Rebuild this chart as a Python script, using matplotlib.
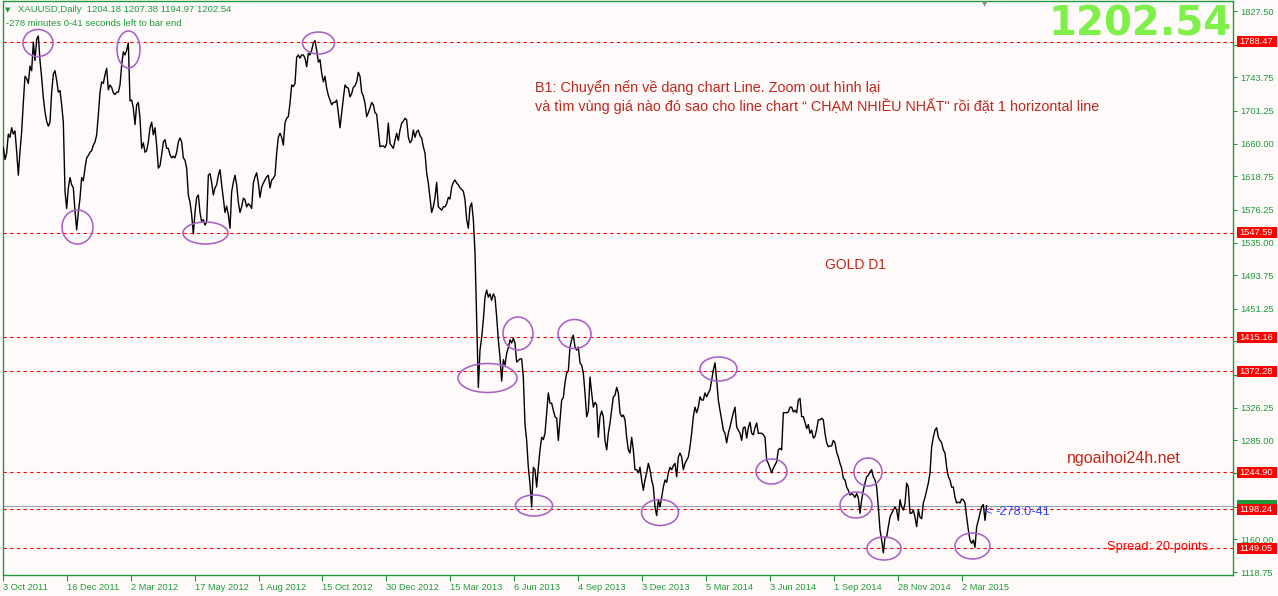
import matplotlib
matplotlib.use('Agg')
import matplotlib.pyplot as plt
from matplotlib.patches import Ellipse, Rectangle
from matplotlib.transforms import IdentityTransform
import numpy as np

# ---------------- data (XAUUSD daily close) ----------------
prices_2011_2012 = [
    1655, 1640, 1648, 1672, 1668, 1680, 1672, 1676, 1650, 1620, 1650, 1675, 1712, 1745, 1742, 1736,
    1758, 1752, 1788, 1765, 1792, 1796, 1765, 1743, 1718, 1700, 1688, 1682, 1687, 1725, 1748, 1752,
    1740, 1725, 1727, 1709, 1687, 1600, 1578, 1604, 1617, 1608, 1604, 1575, 1551, 1573, 1591, 1617,
    1613, 1629, 1642, 1645, 1649, 1651, 1658, 1662, 1671, 1696, 1725, 1738, 1736, 1747, 1755, 1728,
    1734, 1731, 1724, 1722, 1725, 1725, 1734, 1759, 1776, 1772, 1778, 1787, 1714, 1715, 1705, 1684,
    1709, 1712, 1692, 1654, 1661, 1649, 1651, 1662, 1680, 1687, 1671, 1680, 1658, 1629, 1632, 1646,
    1662, 1665, 1654, 1654, 1646, 1642, 1644, 1642, 1649, 1662, 1667, 1662, 1642, 1639, 1629, 1595,
    1586, 1570, 1546, 1573, 1592, 1595, 1573, 1561, 1564, 1557, 1561, 1620, 1622, 1611, 1595, 1604,
    1608, 1620, 1627, 1608, 1591, 1573, 1581, 1570, 1553, 1599, 1611, 1620, 1608, 1586, 1573, 1580,
    1591, 1589, 1580, 1584,
]
prices_2012_2013 = [
    1582, 1578, 1610, 1618, 1623, 1610, 1592, 1605, 1610, 1614, 1618, 1620, 1604, 1614, 1616, 1620,
    1648, 1668, 1673, 1668, 1658, 1686, 1692, 1694, 1711, 1734, 1732, 1736, 1769, 1772, 1768, 1772,
    1772, 1768, 1757, 1774, 1772, 1778, 1787, 1790, 1778, 1763, 1766, 1749, 1738, 1745, 1730, 1721,
    1715, 1709, 1712, 1712, 1715, 1699, 1680, 1699, 1717, 1734, 1731, 1730, 1719, 1723, 1731, 1733,
    1738, 1750, 1745, 1725, 1720, 1711, 1694, 1699, 1705, 1712, 1709, 1699, 1697, 1677, 1656, 1657,
    1657, 1655, 1660, 1686, 1660, 1657, 1654, 1664, 1673, 1664, 1677, 1686, 1688, 1692, 1690, 1668,
    1661, 1664, 1677, 1668, 1675, 1677, 1670, 1667, 1656, 1648, 1623, 1610, 1592, 1573, 1580, 1592,
    1611, 1580, 1578, 1576, 1580, 1580, 1584, 1592, 1590, 1605, 1611, 1614, 1610, 1608, 1604, 1602,
    1600, 1589, 1564, 1553, 1580, 1585, 1564, 1523, 1440, 1352, 1399, 1415, 1437, 1466, 1475, 1466,
    1470, 1462, 1470, 1466,
]
prices_2013_2014 = [
    1441, 1412, 1390, 1360, 1387, 1380, 1395, 1402, 1412, 1408, 1414, 1408, 1384, 1386, 1388, 1388,
    1365, 1305, 1285, 1251, 1230, 1201, 1251, 1248, 1226, 1251, 1273, 1289, 1286, 1294, 1320, 1345,
    1332, 1332, 1323, 1315, 1313, 1285, 1311, 1336, 1339, 1358, 1370, 1373, 1403, 1412, 1418, 1403,
    1399, 1403, 1383, 1380, 1370, 1345, 1315, 1322, 1365, 1345, 1327, 1333, 1330, 1289, 1315, 1322,
    1315, 1285, 1273, 1294, 1307, 1323, 1340, 1342, 1352, 1345, 1320, 1315, 1317, 1311, 1289, 1273,
    1269, 1289, 1273, 1248, 1248, 1244, 1251, 1235, 1222, 1235, 1244, 1256, 1248, 1235, 1226, 1201,
    1190, 1210, 1201, 1213, 1226, 1235, 1232, 1244, 1251, 1248, 1253, 1256, 1239, 1264, 1269, 1264,
    1248, 1256, 1260, 1264, 1277, 1294, 1315, 1327, 1320, 1327, 1340, 1336, 1336, 1345, 1340, 1345,
    1349, 1361, 1374, 1383, 1361, 1336, 1323, 1311, 1298, 1294, 1282, 1294, 1302, 1311, 1320, 1327,
    1302, 1298, 1294,
]
prices_2014_2015 = [
    1285, 1301, 1302, 1288, 1301, 1308, 1294, 1292, 1301, 1307, 1294, 1294, 1294, 1292, 1289, 1260,
    1256, 1250, 1244, 1250, 1254, 1258, 1273, 1275, 1273, 1320, 1320, 1320, 1321, 1327, 1327, 1321,
    1323, 1320, 1336, 1338, 1315, 1315, 1308, 1300, 1305, 1294, 1298, 1288, 1290, 1299, 1311, 1311,
    1313, 1311, 1294, 1282, 1277, 1278, 1278, 1285, 1282, 1270, 1264, 1256, 1250, 1237, 1235, 1226,
    1222, 1216, 1218, 1216, 1213, 1218, 1212, 1193, 1210, 1222, 1231, 1239, 1241, 1245, 1248, 1239,
    1235, 1226, 1201, 1172, 1159, 1143, 1162, 1163, 1176, 1188, 1193, 1197, 1201, 1197, 1184, 1210,
    1201, 1197, 1205, 1231, 1226, 1193, 1193, 1197, 1188, 1176, 1197, 1188, 1186, 1206, 1213, 1222,
    1231, 1244, 1277, 1289, 1298, 1301, 1289, 1285, 1282, 1273, 1269, 1251, 1239, 1235, 1226, 1226,
    1213, 1206, 1207, 1206, 1211, 1210, 1206, 1188, 1172, 1159, 1155, 1159, 1150, 1176, 1184, 1193,
    1201, 1204, 1184, 1202.54,
]

date_labels = ["3 Oct 2011", "16 Dec 2011", "2 Mar 2012", "17 May 2012", "1 Aug 2012",
               "15 Oct 2012", "30 Dec 2012", "15 Mar 2013", "6 Jun 2013", "4 Sep 2013",
               "3 Dec 2013", "5 Mar 2014", "3 Jun 2014", "1 Sep 2014", "28 Nov 2014",
               "2 Mar 2015"]
axis_prices = [1827.50, 1785.00, 1743.75, 1701.25, 1660.00, 1618.75, 1576.25, 1535.00,
               1493.75, 1451.25, 1410.00, 1367.50, 1326.25, 1285.00, 1243.75, 1201.25,
               1160.00, 1118.75]
level_prices = [1788.47, 1547.59, 1415.16, 1372.28, 1244.90, 1198.24, 1149.05]
last_price = 1202.54
header = "XAUUSD,Daily  1204.18 1207.38 1194.97 1202.54"
timer_text = "-278 minutes 0-41 seconds left to bar end"

# ---------------- styling ----------------
W, H = 1278, 596
BG = '#FFFAFA'
GREEN = '#1F9A3A'
RED = '#FF0000'
DARKRED = '#C0281C'
PURPLE = '#A860C8'
FONT = ['Liberation Sans', 'DejaVu Sans']
plt.rcParams['font.family'] = FONT

fig = plt.figure(figsize=(W / 100, H / 100), dpi=100, facecolor=BG)
L, R, T, B = 3, 1233, 1, 575
ax = fig.add_axes([L / W, (H - B) / H, (R - L) / W, (B - T) / H])
ax.set_facecolor(BG)

prices = prices_2011_2012 + prices_2012_2013 + prices_2013_2014 + prices_2014_2015
xs = np.arange(len(prices))
step_px = 5 / 3.0            # horizontal pixel step per sample
x0_px = 3.33                 # pixel x of first sample
ax.set_xlim((L - x0_px) / step_px, (R - x0_px) / step_px)
ppp = (1827.5 - 1118.75) / (572 - 11)   # price per pixel
ax.set_ylim(1827.5 - (B - 11) * ppp, 1827.5 + (11 - T) * ppp)

ax.plot(xs, prices, color='black', lw=1.0, zorder=3)

for lv in level_prices:
    ax.axhline(lv, color=RED, lw=0.8, ls=(0, (3, 3)), zorder=2)
ax.axhline(last_price, color='#A0A0A8', lw=0.8, zorder=2)

for s in ax.spines.values():
    s.set_color(GREEN)
    s.set_linewidth(1.0)

# x axis
tick_spacing = 63.9 / step_px
ax.set_xticks([(3 - x0_px) / step_px + i * tick_spacing for i in range(len(date_labels))])
ax.set_xticklabels(date_labels)
for lab in ax.get_xticklabels():
    lab.set_ha('left')
ax.tick_params(axis='x', colors=GREEN, labelsize=6.7, length=4, width=0.8, pad=1.5,
               direction='out')

# y axis (right); labels hidden behind the level boxes are left blank
ax.yaxis.tick_right()
ax.set_yticks(axis_prices)
ylabels = []
for v in axis_prices:
    covered = any(abs(v - lv) < 6 * ppp for lv in level_prices + [last_price])
    ylabels.append('' if covered else '%.2f' % v)
ax.set_yticklabels(ylabels)
ax.tick_params(axis='y', colors=GREEN, labelsize=6.7, length=3, width=0.8, pad=2.5,
               direction='out')

fig.canvas.draw()


def to_px_y(price):
    return ax.transData.transform((0, price))[1]   # display y (from bottom)


def price_box(price, fc, show_text=True):
    yd = to_px_y(price)
    r = Rectangle((1236.5, yd - 5.5), 40, 11, transform=IdentityTransform(),
                  facecolor=fc, edgecolor='none', zorder=20)
    fig.patches.append(r)
    if show_text:
        fig.text(1239.5 / W, yd / H, '%.2f' % price, color='white', fontsize=6.7,
                 ha='left', va='center', zorder=21)


# green last-price box (mostly hidden by the 1198.24 box, as in the original)
price_box(last_price, '#1F9A3A', show_text=False)
for lv in level_prices:
    price_box(lv, RED)

# purple ellipses (pixel coords measured from top-left)
ellipses = [(38, 43, 30, 27), (128.5, 49.5, 23, 37), (77.5, 227, 31, 34), (205.5, 233, 45, 22),
            (318.5, 43, 32, 22), (487.5, 378, 59, 29), (518, 333.5, 30, 33), (574.5, 334, 33, 29),
            (534, 505.5, 37, 21), (718.5, 369, 37, 24), (660, 512.5, 37, 26), (771.5, 471.5, 31, 25),
            (868, 472, 28, 28), (856, 505, 32, 26), (884, 548.5, 34, 23), (972.5, 546, 35, 26)]
for cx, cy, w, h in ellipses:
    e = Ellipse((cx, H - cy), w, h, transform=IdentityTransform(), facecolor='none',
                edgecolor=PURPLE, lw=1.15, zorder=10)
    fig.patches.append(e)

# header texts
fig.text(8 / W, 1 - 10 / H, '\u25BC', color=GREEN, fontsize=5, ha='center', va='center',
         family=['DejaVu Sans'])
fig.text(18 / W, 1 - 10 / H, header, color=GREEN, fontsize=6.8, ha='left', va='center')
fig.text(6 / W, 1 - 23 / H, timer_text, color=GREEN, fontsize=6.8, ha='left', va='center')
fig.text(985 / W, 1 - 4 / H, '\u25BC', color='#7A9A80', fontsize=5, ha='center', va='center',
         family=['DejaVu Sans'])

# big last price
fig.text(1232 / W, 1 - 25 / H, '%.2f' % last_price, color='#7FF04A', fontsize=29,
         fontweight='bold', ha='right', va='center', family=['DejaVu Sans'])

# annotations
fig.text(535 / W, 1 - 88 / H, 'B1: Chuyển nến về dạng chart Line. Zoom out hình lại',
         color=DARKRED, fontsize=10.4, ha='left', va='center')
fig.text(535 / W, 1 - 106 / H,
         'và tìm vùng giá nào đó sao cho line chart \u201C CHẠM NHIỀU NHẤT" rồi đặt 1 horizontal line',
         color=DARKRED, fontsize=10.4, ha='left', va='center')
fig.text(825 / W, 1 - 265 / H, 'GOLD D1', color=DARKRED, fontsize=10, ha='left', va='center')
fig.text(1067 / W, 1 - 458 / H, 'ngoaihoi24h.net', color=DARKRED, fontsize=11.5, ha='left',
         va='center')
fig.text(1107 / W, 1 - 547 / H, 'Spread: 20 points.', color=RED, fontsize=9.3, ha='left',
         va='center')
fig.text(984 / W, 1 - 512 / H, '<', color='#2B4BFF', fontsize=9, ha='left', va='center')
fig.text(995 / W, 1 - 512 / H, '-278:0-41', color='#2B4BFF', fontsize=9.2, ha='left',
         va='center')

fig.savefig('out.png', dpi=100, facecolor=BG)
